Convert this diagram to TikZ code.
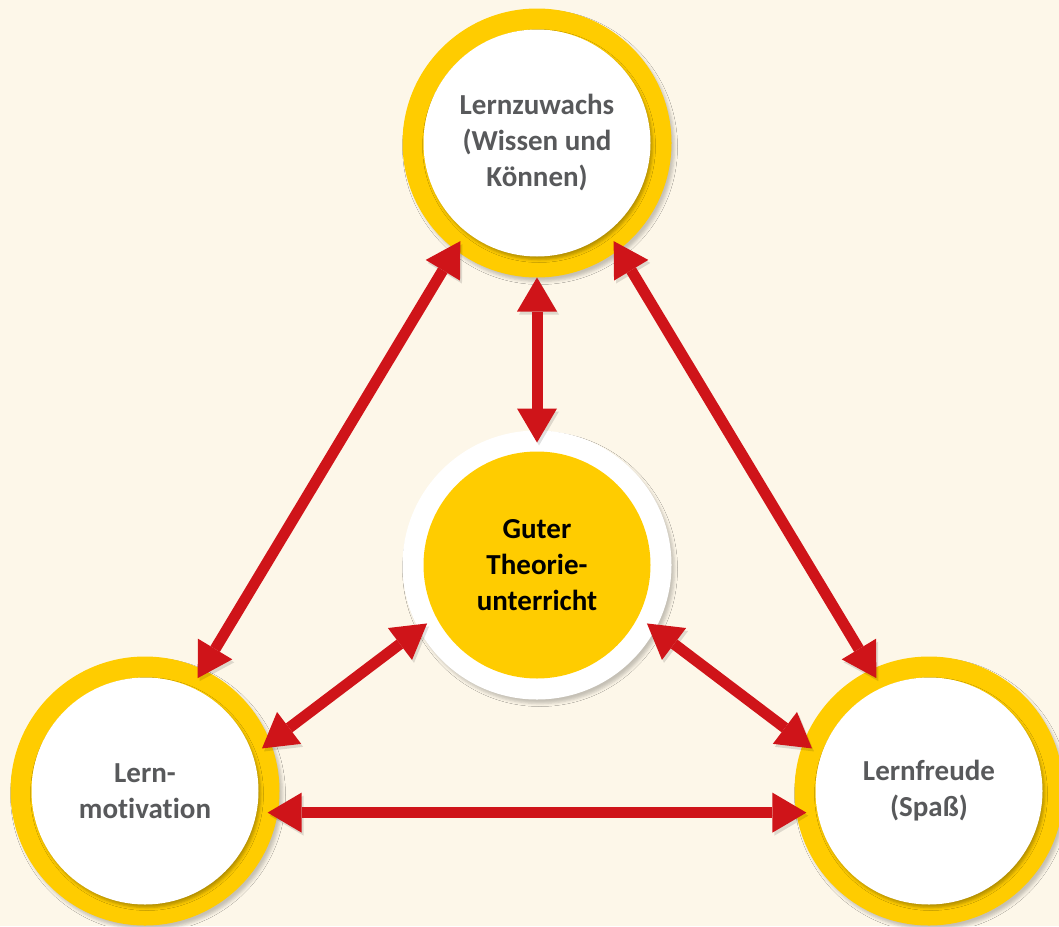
\documentclass[tikz,border=0pt]{standalone}
\usepackage{fontspec}
\setmainfont{Carlito}[Ligatures=NoCommon]
\usetikzlibrary{arrows.meta}
\usetikzlibrary{shadows.blur}
\definecolor{bgcream}{HTML}{FDF7E9}
\definecolor{ringyellow}{HTML}{FFCC00}
\definecolor{arrowred}{HTML}{CF1419}
\definecolor{textgray}{HTML}{58595B}
\tikzset{
  ring node/.style={
    circle,
    minimum size=269pt,
    inner sep=0pt,
    outer sep=-10pt,
    fill=ringyellow,
    text=textgray,
    align=center,
    font=\bfseries\fontsize{29}{36}\selectfont,
    blur shadow={shadow xshift=3pt, shadow yshift=-4pt,
      shadow blur radius=3pt, shadow opacity=22},
    path picture={
      \fill[white, blur shadow={shadow xshift=2pt, shadow yshift=-3pt,
        shadow blur radius=3pt, shadow opacity=30}]
        (path picture bounding box.center) circle (113.5pt);
    },
  }
}
\tikzset{
  core node/.style={
    ring node,
    fill=white,
    text=black,
    path picture={
      \fill[ringyellow] (path picture bounding box.center) circle (113.5pt);
    },
  }
}
\tikzset{
  link/.style={
    draw=arrowred,
    line width=11pt,
    preaction={draw=black, opacity=.12,
      transform canvas={shift={(2pt,-3pt)}}},
  }
}
\begin{document}
\begin{tikzpicture}[
    x=1pt, y=-1pt,
    >={Triangle[width=40pt,length=34pt,line width=0pt]},
    ]

    \path[use as bounding box, fill=bgcream] (0,0) rectangle (1059,926);

    \node[ring node] (gain) at (537,143) {Lernzuwachs\\(Wissen und\\Können)};
    \node[ring node] (motiv) at (145,791) {Lern-\\motivation};
    \node[ring node] (joy) at (929,791) {Lernfreude\\(Spaß)};
    \node[core node] (core) at (537,565) {Guter\\Theorie-\\unterricht};

    \foreach \a/\b in {gain.232/motiv.65,gain.308/joy.115,core.208/motiv.20,
      core.332/joy.160,motiv.-10/joy.190}{
      \draw[link, <->] (\a) -- (\b);
    }
    \draw[link, <->, shorten <=10pt, shorten >=-2pt] (gain.270) -- (core.90);

  \end{tikzpicture}
\end{document}
